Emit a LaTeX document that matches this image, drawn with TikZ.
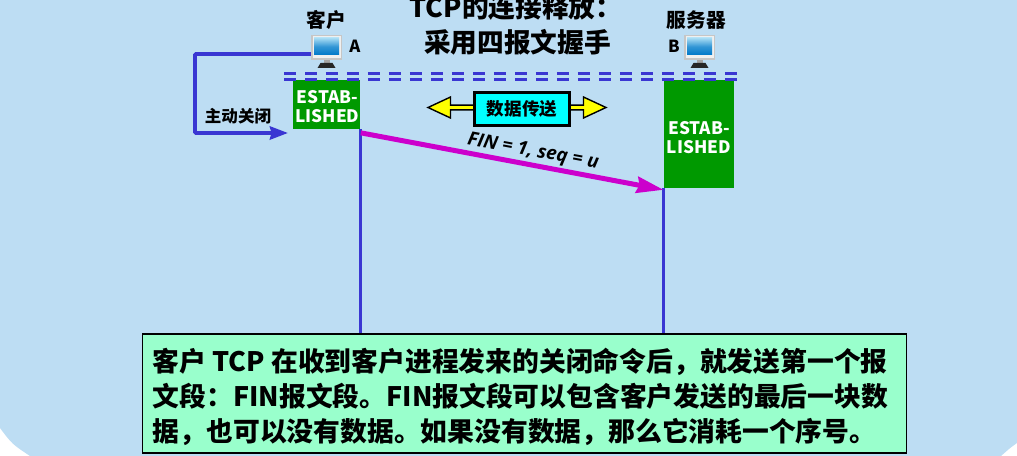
\documentclass[tikz,border=0pt]{standalone}
\usepackage{fontspec}
\setmainfont{Noto Sans CJK SC}
\newfontfamily\finfont{Open Sans}
\usetikzlibrary{arrows.meta,shapes.arrows}
\definecolor{bgblue}{HTML}{BDDDF3}
\definecolor{lineblue}{HTML}{3A36D2}
\definecolor{estabgreen}{HTML}{009900}
\definecolor{finpurple}{HTML}{CC00CC}
\definecolor{capgreen}{HTML}{99FFCC}
\definecolor{datacyan}{HTML}{00FFFF}
\definecolor{datayellow}{HTML}{FFFF00}
\definecolor{screentop}{HTML}{A8DCF4}
\definecolor{screenlow}{HTML}{0078C8}
\tikzset{
  lbl/.style={font=\bfseries\fontsize{11.2}{13}\selectfont,inner sep=0pt},
  tag/.style={font=\bfseries\fontsize{9.5}{11}\selectfont,inner sep=0pt},
  titletext/.style={font=\bfseries\fontsize{15.2}{19}\selectfont,inner sep=0pt},
  estabbox/.style={fill=estabgreen,inner sep=0pt},
  estabtext/.style={text=white,font=\bfseries\fontsize{9.8}{10.9}\selectfont,align=center,inner sep=0pt},
  lifeline/.style={lineblue,line width=.06cm},
  dashrule/.style={lineblue,line width=.065cm,dash pattern=on .24cm off .18cm},
  pics/monitor/.style={code={
    \fill[gray!45] (-15.5,-13) rectangle (15.5,12);
    \fill[gray!12] (-14,-11.5) rectangle (14,10.5);
    \shade[top color=screentop,bottom color=screenlow,middle color=screenlow!70!screentop] (-12.5,-10) rectangle (12.5,7);
    \fill[gray!70] (-3,12) rectangle (3,15);
    \fill[black!85] (-9,20) -- (-6,15) -- (6,15) -- (9,20) -- cycle;
  }}
}
\begin{document}
\begin{tikzpicture}[x=.02cm,y=-.02cm,>=Stealth]
\useasboundingbox (0,0) rectangle (1017,456);
\fill[bgblue] (0,0)--(1017,0)--(1017,443) .. controls (1010,448) .. (1001,456)--(30,456) .. controls (12,444) .. (0,428)--cycle;
% title
\node[titletext] (title1) at (516,7) {TCP的连接释放：};
\node[titletext] (title2) at (517.5,42) {采用四报文握手};
% hosts
\node[lbl] (hostA) at (326.5,20) {客户};
\node[lbl] (hostB) at (696.5,20) {服务器};
\node[tag] (nameA) at (355,46) {A};
\node[tag] (nameB) at (674,46) {B};
\coordinate (monA) at (326.5,48);
\coordinate (monB) at (699.5,48);
% states
\node[estabbox,minimum width=1.36cm,minimum height=.98cm] (estabA) at (326.5,104.5) {};
\node[estabbox,minimum width=1.4cm,minimum height=2.16cm] (estabB) at (699,134) {};
\node[estabtext] (textA) at (327.5,106.5) {ESTAB-\\LISHED};
\node[estabtext] (textB) at (699,138) {ESTAB-\\LISHED};
\draw[dashrule] (284,73.5)--(737,73.5);
\draw[dashrule] (284,79.5)--(737,79.5);
% caption
\node[draw=black,fill=capgreen,line width=.6pt,minimum width=15.3cm,minimum height=2.38cm,inner sep=0pt] (caption) at (524.5,393.5) {};
\node[inner sep=0pt,font=\bfseries\fontsize{15.25}{19.9}\selectfont,align=left] (captext) at (520.5,397)
  {客户 TCP 在收到客户进程发来的关闭命令后，就发送第一个报\\
   文段：FIN报文段。FIN报文段可以包含客户发送的最后一块数\\
   据，也可以没有数据。如果没有数据，那么它消耗一个序号。};
\draw[lifeline] (estabA.south east)--(estabA.south east |- caption.north);
\draw[lifeline] (estabB.south west)--(estabB.south west |- caption.north);
% close command
\coordinate (closeend) at (288,133);
\draw[lineblue,line width=.075cm,rounded corners=.02cm,-{Stealth[length=.36cm,width=.26cm,inset=.03cm]}] (monA)++(-15,6)--(195,54)--(195,133)--(closeend);
\node[font=\bfseries\fontsize{9.4}{11}\selectfont,inner sep=0pt] (closelbl) at (238,116) {主动关闭};
\pic at (monA) {monitor};
\pic at (monB) {monitor};
% data transfer
\node[double arrow,draw=black,fill=datayellow,line width=.8pt,minimum height=3.56cm,minimum width=.42cm,inner sep=0pt,
  double arrow head extend=.05cm,double arrow tip angle=50] (dataarrow) at (517,107.5) {};
\node[draw=black,fill=datacyan,line width=1.3pt,minimum width=1.9cm,minimum height=.66cm,inner sep=0pt,
  font=\bfseries\fontsize{10}{12}\selectfont] (datatext) at (522,109) {数据传送};
% FIN
\draw[finpurple,line width=.1cm,-{Stealth[length=.54cm,width=.32cm,inset=.05cm]}] ([yshift=-.07cm]estabA.south east)--([yshift=-.03cm]estabB.south west);
\node[rotate=-10.5,inner sep=0pt,font=\finfont\bfseries\itshape\fontsize{10.7}{12}\selectfont] (finlbl) at (533,152) {FIN = 1, seq = u};
\end{tikzpicture}
\end{document}
